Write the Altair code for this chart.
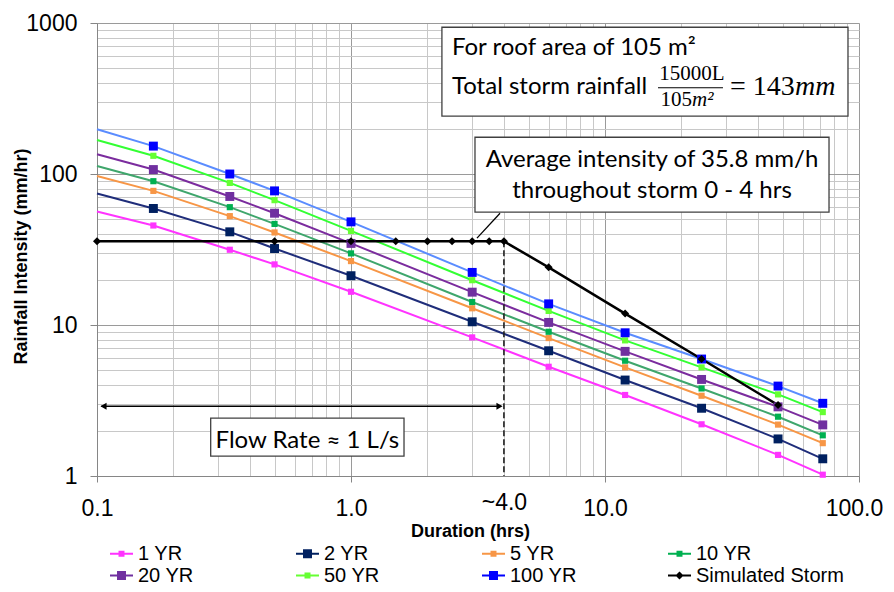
import altair as alt
import pandas as pd

# ---------------- data ----------------
durations = [0.1, 0.1667, 0.3333, 0.5, 1, 3, 6, 12, 24, 48, 72]
yr1 = [56.5, 45.6, 31.5, 25.2, 16.6, 8.28, 5.29, 3.44, 2.20, 1.38, 1.02]
yr2 = [74.3, 59.1, 41.4, 32.1, 21.2, 10.5, 6.75, 4.32, 2.81, 1.76, 1.30]
yr5 = [97.1, 77.3, 52.6, 41.0, 26.5, 12.9, 8.19, 5.24, 3.40, 2.19, 1.65]
yr10 = [113, 89.6, 60.3, 46.7, 29.8, 14.2, 9.02, 5.80, 3.80, 2.47, 1.86]
yr20 = [135, 107, 71.0, 55.0, 34.7, 16.5, 10.4, 6.69, 4.36, 2.87, 2.18]
yr50 = [168, 132, 87.3, 67.1, 42.0, 19.8, 12.4, 7.91, 5.24, 3.47, 2.65]
yr100 = [198, 153, 100, 77.3, 48.2, 22.3, 13.8, 8.88, 5.95, 3.94, 3.03]

storm_durations = [0.1, 0.5, 1, 1.5, 2, 2.5, 3, 3.5, 4, 6, 12, 24, 48]
storm_values = [35.8, 35.8, 35.8, 35.8, 35.8, 35.8, 35.8, 35.8, 35.8, 24.1, 11.9, 5.95, 2.95]

series_names = ["1 YR", "2 YR", "5 YR", "10 YR", "20 YR", "50 YR", "100 YR", "Simulated Storm"]
big_marker_series = ["2 YR", "20 YR", "100 YR"]

avg_intensity = 35.8
storm_end = 4
flow_arrow_level = 2.9

x_ticks = [0.1, 0.2, 0.3, 0.4, 0.5, 0.6, 0.7, 0.8, 0.9,
           1, 2, 3, 4, 5, 6, 7, 8, 9,
           10, 20, 30, 40, 50, 60, 70, 80, 90, 100]
y_ticks = [1, 2, 3, 4, 5, 6, 7, 8, 9,
           10, 20, 30, 40, 50, 60, 70, 80, 90,
           100, 200, 300, 400, 500, 600, 700, 800, 900, 1000]

# ---------------- styles ----------------
line_colors = ["#FF33FF", "#1F2D7A", "#F79646", "#3FA66C", "#7B2C9E", "#33FF33", "#5A8CFF", "#000000"]
marker_colors = ["#FF33FF", "#002060", "#F79646", "#00B050", "#7030A0", "#66FF33", "#0000FF", "#000000"]

LINE = "M-1,-0.087L1,-0.087L1,0.087L-1,0.087Z"
def sq(h):
    return f"M{-h},{-h}L{h},{-h}L{h},{h}L{-h},{h}Z"
BIGSQ = LINE + sq(0.39)
SMSQ = LINE + sq(0.26)
DIAM = LINE + "M0,-0.35L0.35,0L0,0.35L-0.35,0Z"
legend_shapes = [SMSQ, BIGSQ, SMSQ, SMSQ, BIGSQ, SMSQ, BIGSQ, DIAM]

rows = []
for name, vals in zip(series_names[:7], [yr1, yr2, yr5, yr10, yr20, yr50, yr100]):
    for d, v in zip(durations, vals):
        rows.append({"series": name, "dur": d, "val": v})
idf = pd.DataFrame(rows)
storm = pd.DataFrame({"series": "Simulated Storm", "dur": storm_durations, "val": storm_values})

xs = alt.Scale(type="log", domain=[0.1, 100], nice=False)
ys = alt.Scale(type="log", domain=[1, 1000], nice=False)

MAJOR = "#9a9a9a"
MINOR = "#c8c8c8"
AXC = "#868686"

x_axis = alt.Axis(
    values=x_ticks,
    labelExpr="datum.value == 0.1 ? '0.1' : datum.value == 1 ? '1.0' : datum.value == 10 ? '10.0' : datum.value == 100 ? '100.0' : datum.value == 4 ? '~4.0' : ''",
    labelFont="Liberation Sans", labelFontSize=23, labelColor="black",
    labelFlush=False, labelOverlap=False,
    labelPadding={"condition": {"test": "datum.value == 4", "value": 9}, "value": 15},
    labelOffset={"condition": {"test": "datum.value == 100", "value": -5}, "value": 0},
    tickSize=6,
    tickColor={"condition": {"test": "indexof([0.1, 1, 10, 100], datum.value) >= 0", "value": AXC}, "value": "transparent"},
    gridColor={"condition": {"test": "indexof([0.1, 1, 10, 100], datum.value) >= 0", "value": MAJOR}, "value": MINOR},
    gridWidth=1, domainColor=AXC,
    title="Duration (hrs)", titleFont="Liberation Sans", titleFontSize=18, titleFontWeight="bold",
    titleColor="black", titleX=373, titleY=55, titleAlign="center", titleBaseline="middle",
)
y_axis = alt.Axis(
    values=y_ticks,
    labelExpr="datum.value == 1 ? '1' : datum.value == 10 ? '10' : datum.value == 100 ? '100' : datum.value == 1000 ? '1000' : ''",
    labelFont="Liberation Sans", labelFontSize=23, labelColor="black",
    labelFlush=False, labelOverlap=False, labelPadding=13,
    tickSize=7,
    tickColor={"condition": {"test": "indexof([1, 10, 100, 1000], datum.value) >= 0", "value": AXC}, "value": "transparent"},
    gridColor={"condition": {"test": "indexof([1, 10, 100, 1000], datum.value) >= 0", "value": MAJOR}, "value": MINOR},
    gridWidth=1, domainColor=AXC,
    title="Rainfall Intensity (mm/hr)", titleFont="Liberation Sans", titleFontSize=18, titleFontWeight="bold",
    titleColor="black", titleX=-76, titleY=233, titleAngle=270, titleAlign="center", titleBaseline="middle",
)

leg = dict(title=None, orient="none", legendX=13, legendY=519, columns=4, direction="horizontal",
           gridAlign="all",
           symbolSize=529, symbolStrokeWidth=0, symbolOpacity=1,
           labelFont="Liberation Sans", labelFontSize=20, labelColor="black", labelOffset=5,
           labelLimit=400, columnPadding=10, rowPadding=0, padding=0)

X = lambda: alt.X("dur:Q", scale=xs)
Y = lambda: alt.Y("val:Q", scale=ys)

idf_lines = alt.Chart(idf).mark_line(strokeWidth=2).encode(
    x=alt.X("dur:Q", scale=xs, axis=x_axis),
    y=alt.Y("val:Q", scale=ys, axis=y_axis),
    stroke=alt.Stroke("series:N", scale=alt.Scale(domain=series_names, range=line_colors), legend=alt.Legend(**leg)),
    order="dur:Q",
)
storm_line = alt.Chart(storm).mark_line(strokeWidth=2.5, color="black").encode(x=X(), y=Y(), order="dur:Q")

fill_scale = alt.Scale(domain=series_names, range=marker_colors)
fill_enc = alt.Fill("series:N", scale=fill_scale, legend=alt.Legend(**leg))
big_pts = alt.Chart(idf).transform_filter(
    alt.FieldOneOfPredicate(field="series", oneOf=big_marker_series)
).transform_filter("datum.dur > 0.1").mark_point(
    shape="square", filled=True, size=80, opacity=1, strokeWidth=0
).encode(x=X(), y=Y(), fill=fill_enc)
small_pts = alt.Chart(idf).transform_filter(
    {"not": alt.FieldOneOfPredicate(field="series", oneOf=big_marker_series)}
).transform_filter("datum.dur > 0.1").mark_point(
    shape="square", filled=True, size=38, opacity=1, strokeWidth=0
).encode(x=X(), y=Y(), fill=fill_enc)
storm_pts = alt.Chart(storm).mark_point(
    shape="diamond", filled=True, size=64, opacity=1, strokeWidth=0
).encode(x=X(), y=Y(), fill=fill_enc)

# legend carrier: one row per series, placed outside the domain and clipped away
legend_df = pd.DataFrame({"series": series_names, "dur": [0.001] * 8, "val": [10] * 8})
legend_layer = alt.Chart(legend_df).mark_point(filled=True, opacity=1, clip=True, strokeWidth=0).encode(
    x=X(), y=Y(),
    fill=fill_enc,
    shape=alt.Shape("series:N", scale=alt.Scale(domain=series_names, range=legend_shapes), legend=alt.Legend(**leg)),
)

# ---------------- annotations (in data coordinates) ----------------
def one(**kw):
    return pd.DataFrame({k: [v] for k, v in kw.items()})

def txt(x, y, t, font="Lato", size=24, align="left", style="normal"):
    return alt.Chart(one(dur=x, val=y, t=t)).mark_text(
        font=font, fontSize=size, align=align, baseline="middle", fontStyle=style, color="black"
    ).encode(x=X(), y=Y(), text="t:N")

def box(x1, x2, y1, y2):
    return alt.Chart(one(dur=x1, dur2=x2, val=y1, val2=y2)).mark_rect(
        fill="white", stroke="#404040", strokeWidth=1.3
    ).encode(x=X(), x2="dur2:Q", y=Y(), y2="val2:Q")

box1 = box(2.28, 90.5, 241.5, 937)
box2 = box(3.077, 76.2, 55.9, 175.2)
box3 = box(0.2803, 1.617, 1.356, 2.42)

t1 = txt(2.498, 680, "For roof area of 105 m²")
t2 = txt(2.498, 375.4, "Total storm rainfall")
num = txt(22.0, 457.6, "15000L", font="Liberation Serif", size=21, align="center")
den = txt(22.0, 307.8, "105", font="Liberation Serif", size=21, align="right")
den2 = txt(22.0, 307.8, "m²", font="Liberation Serif", size=21, align="left", style="italic")
frac_bar = alt.Chart(one(dur=16.17, dur2=29.14, val=372.5)).mark_rule(color="black", strokeWidth=1).encode(
    x=X(), x2="dur2:Q", y=Y())
eq = txt(31.05, 375.4, "= 143", font="Liberation Serif", size=28)
mm = txt(55.98, 375.4, "mm", font="Liberation Serif", size=28, style="italic")

t3 = txt(15.31, 123.4, "Average intensity of 35.8 mm/h", align="center")
t4 = txt(15.31, 77.3, "throughout storm 0 - 4 hrs", align="center")
leader = alt.Chart(pd.DataFrame({"dur": [3.861, 3.133], "val": [55.0, 37.6]})).mark_line(
    color="black", strokeWidth=1.3).encode(x=X(), y=Y())

t5 = txt(0.6734, 1.704, "Flow Rate ≈ 1 L/s", align="center")

dash = alt.Chart(one(dur=storm_end, val=avg_intensity, val2=1)).mark_rule(
    color="#202020", strokeWidth=1.6, strokeDash=[6, 3]).encode(x=X(), y=Y(), y2="val2:Q")
arrow = alt.Chart(one(dur=0.104, dur2=3.9, val=flow_arrow_level)).mark_rule(
    color="black", strokeWidth=1.5).encode(x=X(), x2="dur2:Q", y=Y())
head_l = alt.Chart(one(dur=0.1061, val=flow_arrow_level)).mark_point(
    shape="triangle-left", filled=True, size=50, color="black", opacity=1).encode(x=X(), y=Y())
head_r = alt.Chart(one(dur=3.843, val=flow_arrow_level)).mark_point(
    shape="triangle-right", filled=True, size=50, color="black", opacity=1).encode(x=X(), y=Y())

chart = alt.layer(
    idf_lines, dash, arrow, head_l, head_r, storm_line, small_pts, big_pts, storm_pts, legend_layer,
    box1, box2, box3, leader, t1, t2, num, den, den2, frac_bar, eq, mm, t3, t4, t5,
).properties(
    width=762, height=453,
    autosize=alt.AutoSizeParams(type="none"),
    padding={"left": 89, "top": 15, "right": 27, "bottom": 108},
).configure_view(stroke=AXC, strokeWidth=1).configure(background="white")

chart.save("out.html", embed_options={"renderer": "svg", "actions": False})
